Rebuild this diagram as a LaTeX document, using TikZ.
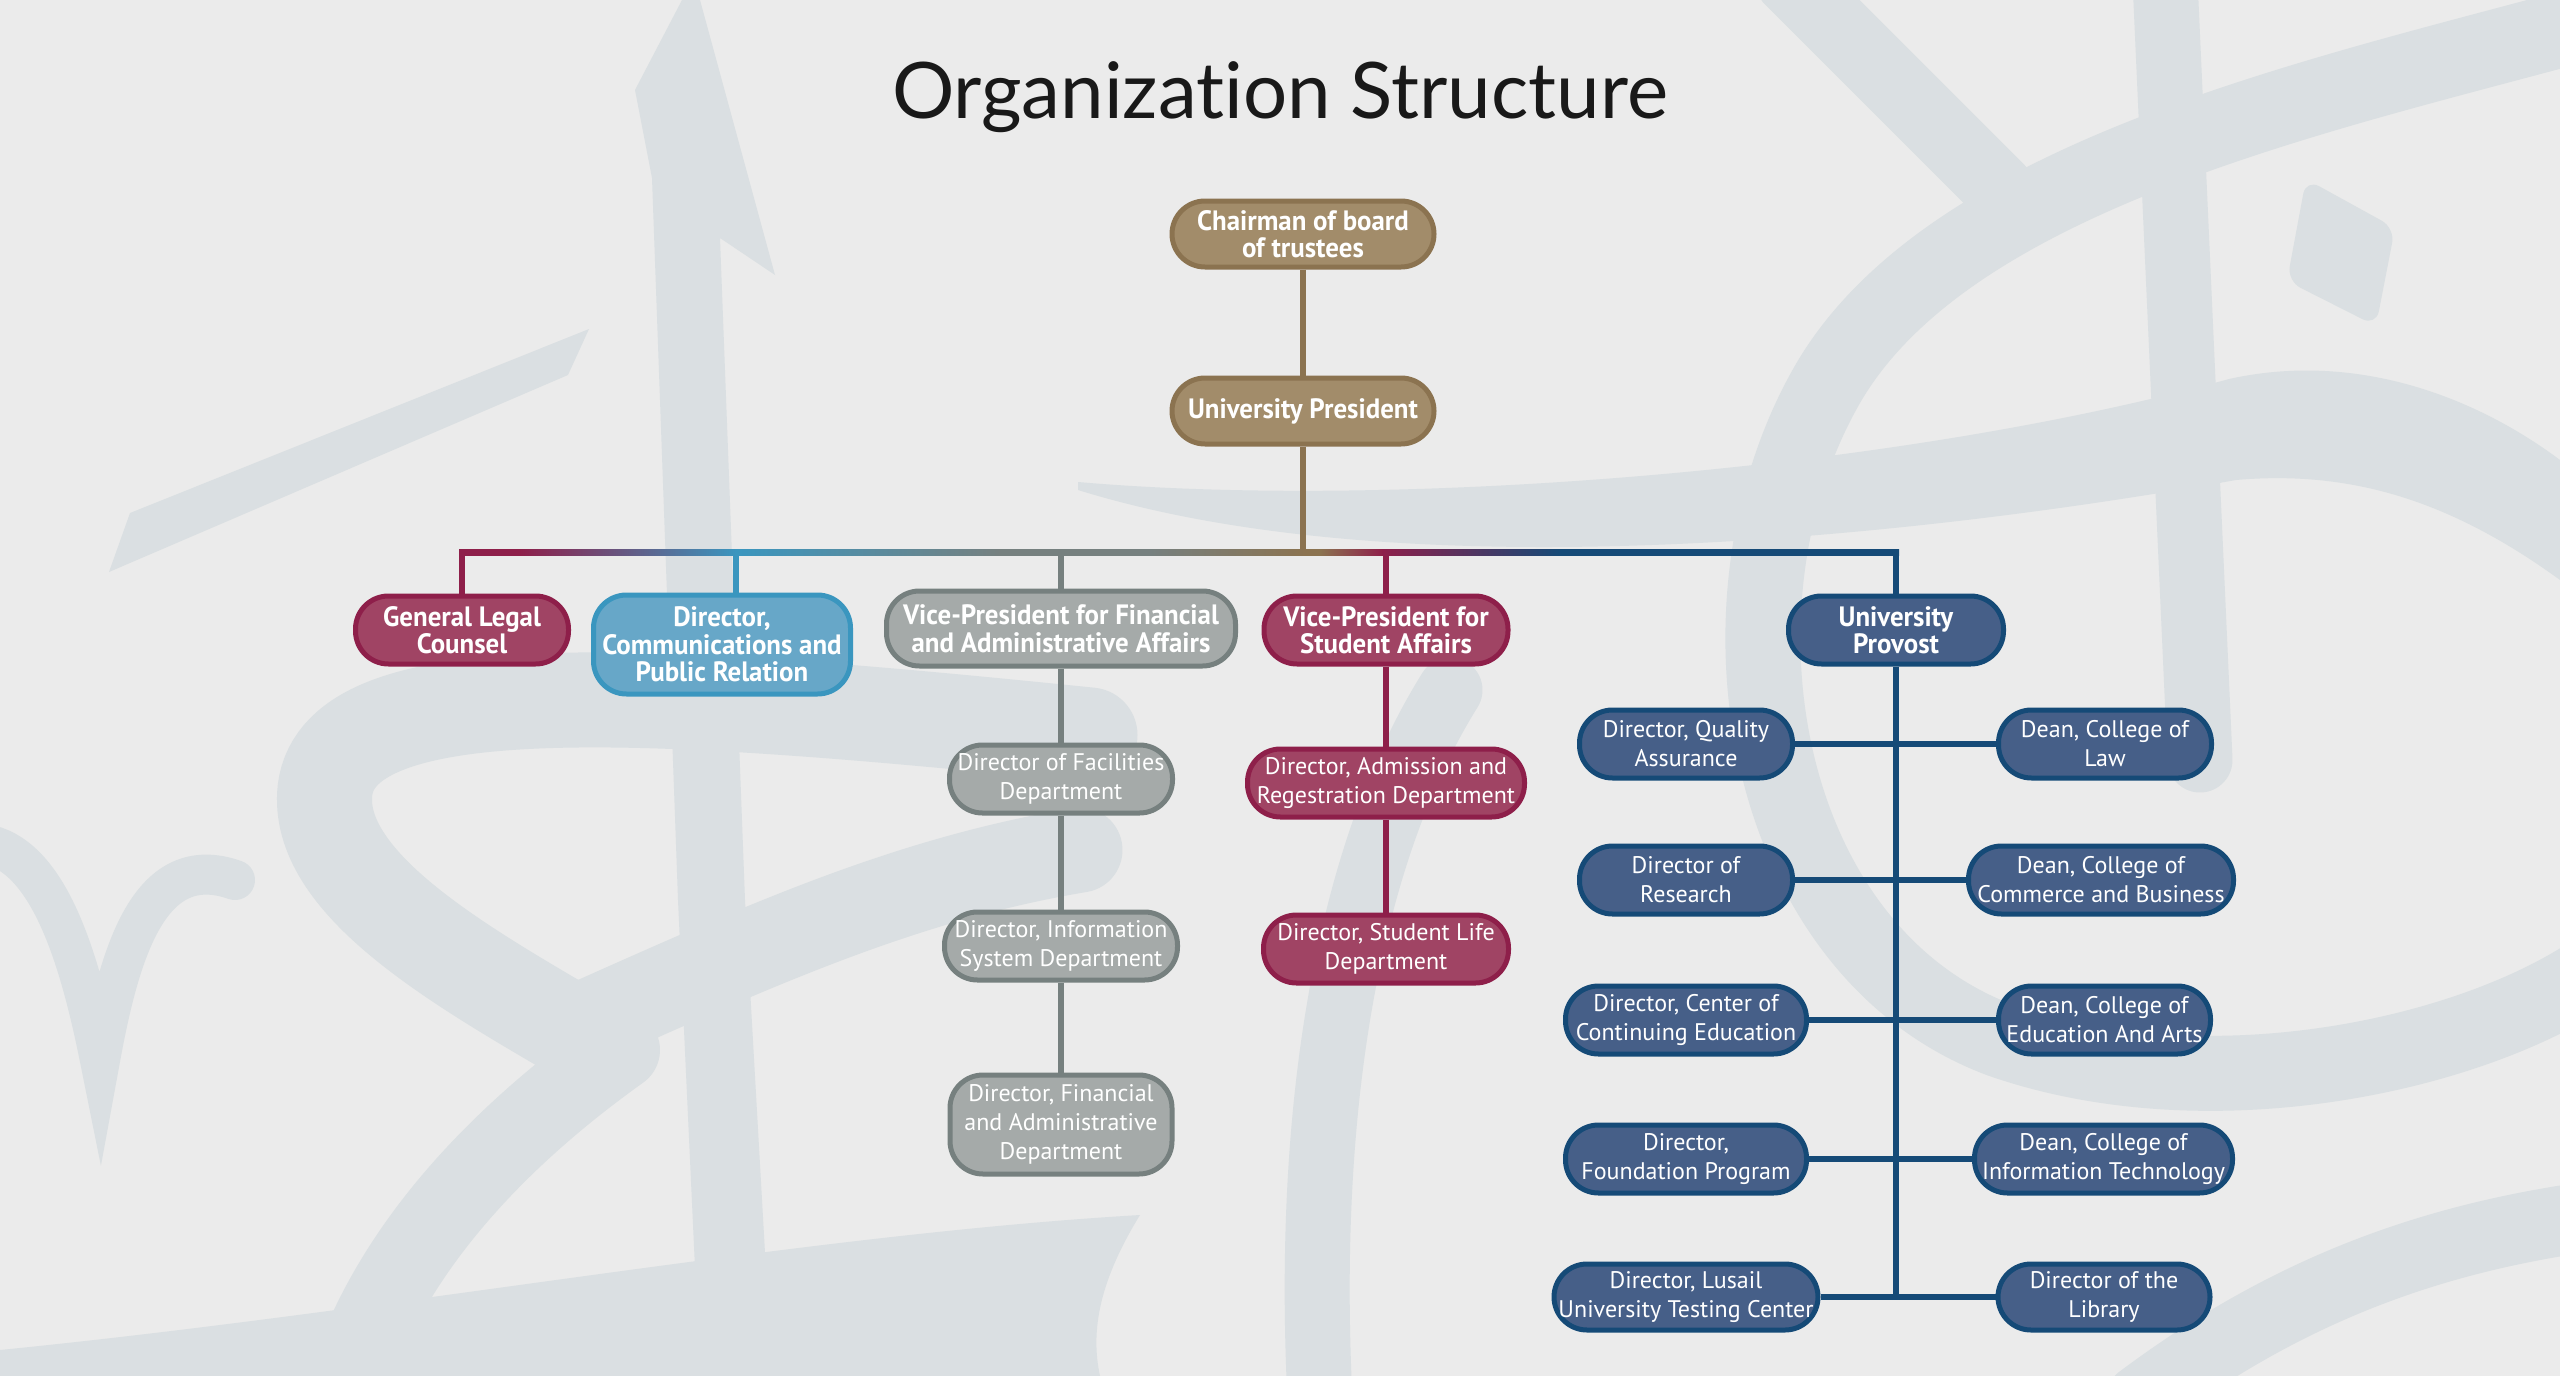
\documentclass[tikz,border=0pt]{standalone}
\usepackage{fontspec}
\usepackage{tikz}
\usetikzlibrary{positioning,calc}
\newfontfamily\boxfont{PT Sans}
\newfontfamily\headfont[FakeStretch=0.96]{PT Sans}
\newfontfamily\titlefont[Ligatures=NoCommon]{Lato}

\definecolor{bgcol}{HTML}{EBEBEB}
\definecolor{ink}{HTML}{DADFE2}
\definecolor{goldfill}{HTML}{A28C6A}
\definecolor{goldln}{HTML}{8B7350}
\definecolor{redfill}{HTML}{A04464}
\definecolor{redln}{HTML}{8E1F4A}
\definecolor{bluefill}{HTML}{67A7C8}
\definecolor{blueln}{HTML}{3A96BF}
\definecolor{greyfill}{HTML}{A5AAA9}
\definecolor{greyln}{HTML}{76807F}
\definecolor{navyfill}{HTML}{465F88}
\definecolor{navyln}{HTML}{154A77}

\tikzset{box/.style={draw, line width=5pt, rounded corners=33pt, text centered, align=center, inner sep=0pt, minimum height=68pt, text=white, font=\boxfont\fontsize{24}{29}\selectfont}}
\tikzset{head/.style={font=\headfont\bfseries\fontsize{28}{27.5}\selectfont}}
\tikzset{goldbox/.style={box, head, fill=goldfill, draw=goldln}}
\tikzset{redbox/.style={box, fill=redfill, draw=redln}}
\tikzset{bluebox/.style={box, head, fill=bluefill, draw=blueln}}
\tikzset{greybox/.style={box, fill=greyfill, draw=greyln}}
\tikzset{navybox/.style={box, fill=navyfill, draw=navyln}}
\tikzset{line/.style={draw, line width=6pt}}
\tikzset{brush/.style={draw=ink, line cap=round}}

\begin{document}
\begin{tikzpicture}[x=1pt, y=-1pt]
		\useasboundingbox (0,0) rectangle (2560,1376);
		\fill [bgcol] (0,0) rectangle (2560,1376);

		% calligraphy in the background
		\fill [ink] (635,90) -- (682,0) -- (700,0) -- (775,275) -- (720,238) -- (745,900) -- (772,1376) -- (700,1376) -- (678,900) -- (652,178) -- cycle;
		\fill [ink] (130,513) -- (589,329) -- (568,375) -- (109,572) -- cycle;
		\draw [brush, line width=95pt] (1090,735) .. controls (650,690) and (340,670) .. (325,790) .. controls (315,880) and (450,960) .. (570,1030);
		\draw [brush, line width=85pt] (570,1030) .. controls (750,950) and (900,880) .. (1080,850);
		\draw [brush, line width=80pt] (620,1050) .. controls (480,1150) and (390,1260) .. (350,1376);
		\fill [ink] (0,1376) -- (0,1350) .. controls (400,1310) and (800,1235) .. (1140,1215) .. controls (1100,1280) and (1090,1330) .. (1100,1376) -- cycle;
		\draw [brush, line width=40pt] (-10,845) .. controls (50,860) and (80,960) .. (100,1060) .. controls (120,950) and (150,850) .. (235,880);
		\fill [ink] (1078,482) .. controls (1400,510) and (1900,470) .. (2229,379) .. controls (2360,350) and (2480,400) .. (2560,460) -- (2560,580) .. controls (2450,500) and (2350,470) .. (2236,480) .. controls (1900,540) and (1400,590) .. (1078,490) -- cycle;
		\draw [brush, line width=70pt] (1790,-20) -- (2000,190);
		\draw [brush, line width=75pt] (2560,30) .. controls (2300,100) and (1950,180) .. (1830,380) .. controls (1700,600) and (1760,950) .. (2000,1040) .. controls (2200,1110) and (2450,1060) .. (2580,980);
		\draw [brush, line width=65pt] (2165,-20) -- (2200,760);
		\fill [ink, rounded corners=15pt] (2306,179) -- (2395,228) -- (2376,326) -- (2287,281) -- cycle;
		\draw [brush, line width=65pt] (1450,690) .. controls (1350,850) and (1305,1100) .. (1320,1400);
		\draw [brush, line width=70pt] (2140,1400) .. controls (2300,1280) and (2450,1235) .. (2600,1215);

		\node [anchor=base, text=black!90, font=\titlefont\fontsize{78}{80}\selectfont] (title) at (1280,118) {Organization Structure};

		\node [goldbox, minimum width=262pt, minimum height=66pt] (chair) at (1303,234) {Chairman of board\\of trustees};
		\node [goldbox, minimum width=262pt, minimum height=66pt, below=106pt of chair] (pres) {University President};

		\node [redbox, head, minimum width=213pt, below=147pt of pres, xshift=-841pt]	(glc) {General Legal\\Counsel};
		\node [bluebox, minimum width=257pt, minimum height=99pt, below=146pt of pres, xshift=-581pt]	(comm) {Director,\\Communications and\\Public Relation};
		\node [greybox, head, minimum width=349pt, minimum height=75pt, below=142pt of pres, xshift=-242pt]	(vpf) {Vice-President for Financial\\and Administrative Affairs};
		\node [redbox, head, minimum width=244pt, below=147pt of pres, xshift=83pt]	(vps) {Vice-President for\\Student Affairs};
		\node [navybox, head, minimum width=215pt, below=147pt of pres, xshift=593pt]	(prov) {University\\Provost};

		\node [greybox, minimum width=223pt, below=74pt of vpf]	(fac) {Director of Facilities\\Department};
		\node [greybox, minimum width=233pt, below=94pt of fac]	(info) {Director, Information\\System Department};
		\node [greybox, minimum width=222pt, minimum height=99pt, below=90pt of info]	(fin) {Director, Financial\\and Administrative\\Department};

		\node [redbox, minimum width=277pt, below=80pt of vps]	(adm) {Director, Admission and\\Regestration Department};
		\node [redbox, minimum width=245pt, below=93pt of adm]	(life) {Director, Student Life\\Department};

		\node [navybox, minimum width=213pt, below=41pt of prov, xshift=-210pt]	(qa) {Director, Quality\\Assurance};
		\node [navybox, minimum width=213pt, below=63pt of qa]	(res) {Director of\\Research};
		\node [navybox, minimum width=241pt, below=67pt of res]	(cont) {Director, Center of\\Continuing Education};
		\node [navybox, minimum width=241pt, below=66pt of cont]	(found) {Director,\\Foundation Program};
		\node [navybox, minimum width=264pt, minimum height=66pt, below=66pt of found]	(lus) {Director, Lusail\\University Testing Center};
		\node [navybox, minimum width=213pt, right=201pt of qa]	(law) {Dean, College of\\Law};
		\node [navybox, minimum width=265pt, right=171pt of res]	(com) {Dean, College of\\Commerce and Business};
		\node [navybox, minimum width=212pt, right=187pt of cont]	(edu) {Dean, College of\\Education And Arts};
		\node [navybox, minimum width=258pt, right=163pt of found]	(it) {Dean, College of\\Information Technology};
		\node [navybox, minimum width=212pt, minimum height=66pt, right=175pt of lus]	(lib) {Director of the\\Library};

		\coordinate (bar) at (1303,552);
		\coordinate (cdrop) at (736,549);

		\path [line, goldln] (chair) -- (pres);
		\path [line, goldln] (pres.south) -- (pres.south |- bar);
		\path [line, redln] (glc.north |- cdrop) -- (glc.north);
		\path [line, blueln] (cdrop) -- (cdrop |- comm.north);
		\path [line, greyln] (vpf.north |- cdrop) -- (vpf.north);
		\path [line, redln] (vps.north |- cdrop) -- (vps.north);
		\path [line, navyln] (prov.north |- cdrop) -- (prov.north);

		\foreach \a/\b/\l/\r in {459/521/redln/redln, 520/737/redln/blueln, 736/1001/blueln/greyln, 1000/1151/greyln/greyln, 1150/1306/greyln/goldln, 1305/1321/goldln/goldln, 1320/1383/goldln/redln, 1382/1561/redln/navyln, 1560/1899/navyln/navyln}
			\fill [left color=\l, right color=\r] (\a,549) rectangle (\b,555);

		\path [line, greyln] (vpf) -- (fac);
		\path [line, greyln] (fac) -- (info);
		\path [line, greyln] (info) -- (fin);
		\path [line, redln] (vps) -- (adm);
		\path [line, redln] (adm) -- (life);

		\path [line, navyln] (prov.south) -- (prov.south |- lus.east);
		\path [line, navyln] (qa) -- (law);
		\path [line, navyln] (res) -- (com);
		\path [line, navyln] (cont) -- (edu);
		\path [line, navyln] (found) -- (it);
		\path [line, navyln] (lus) -- (lib);
	\end{tikzpicture}
\end{document}
